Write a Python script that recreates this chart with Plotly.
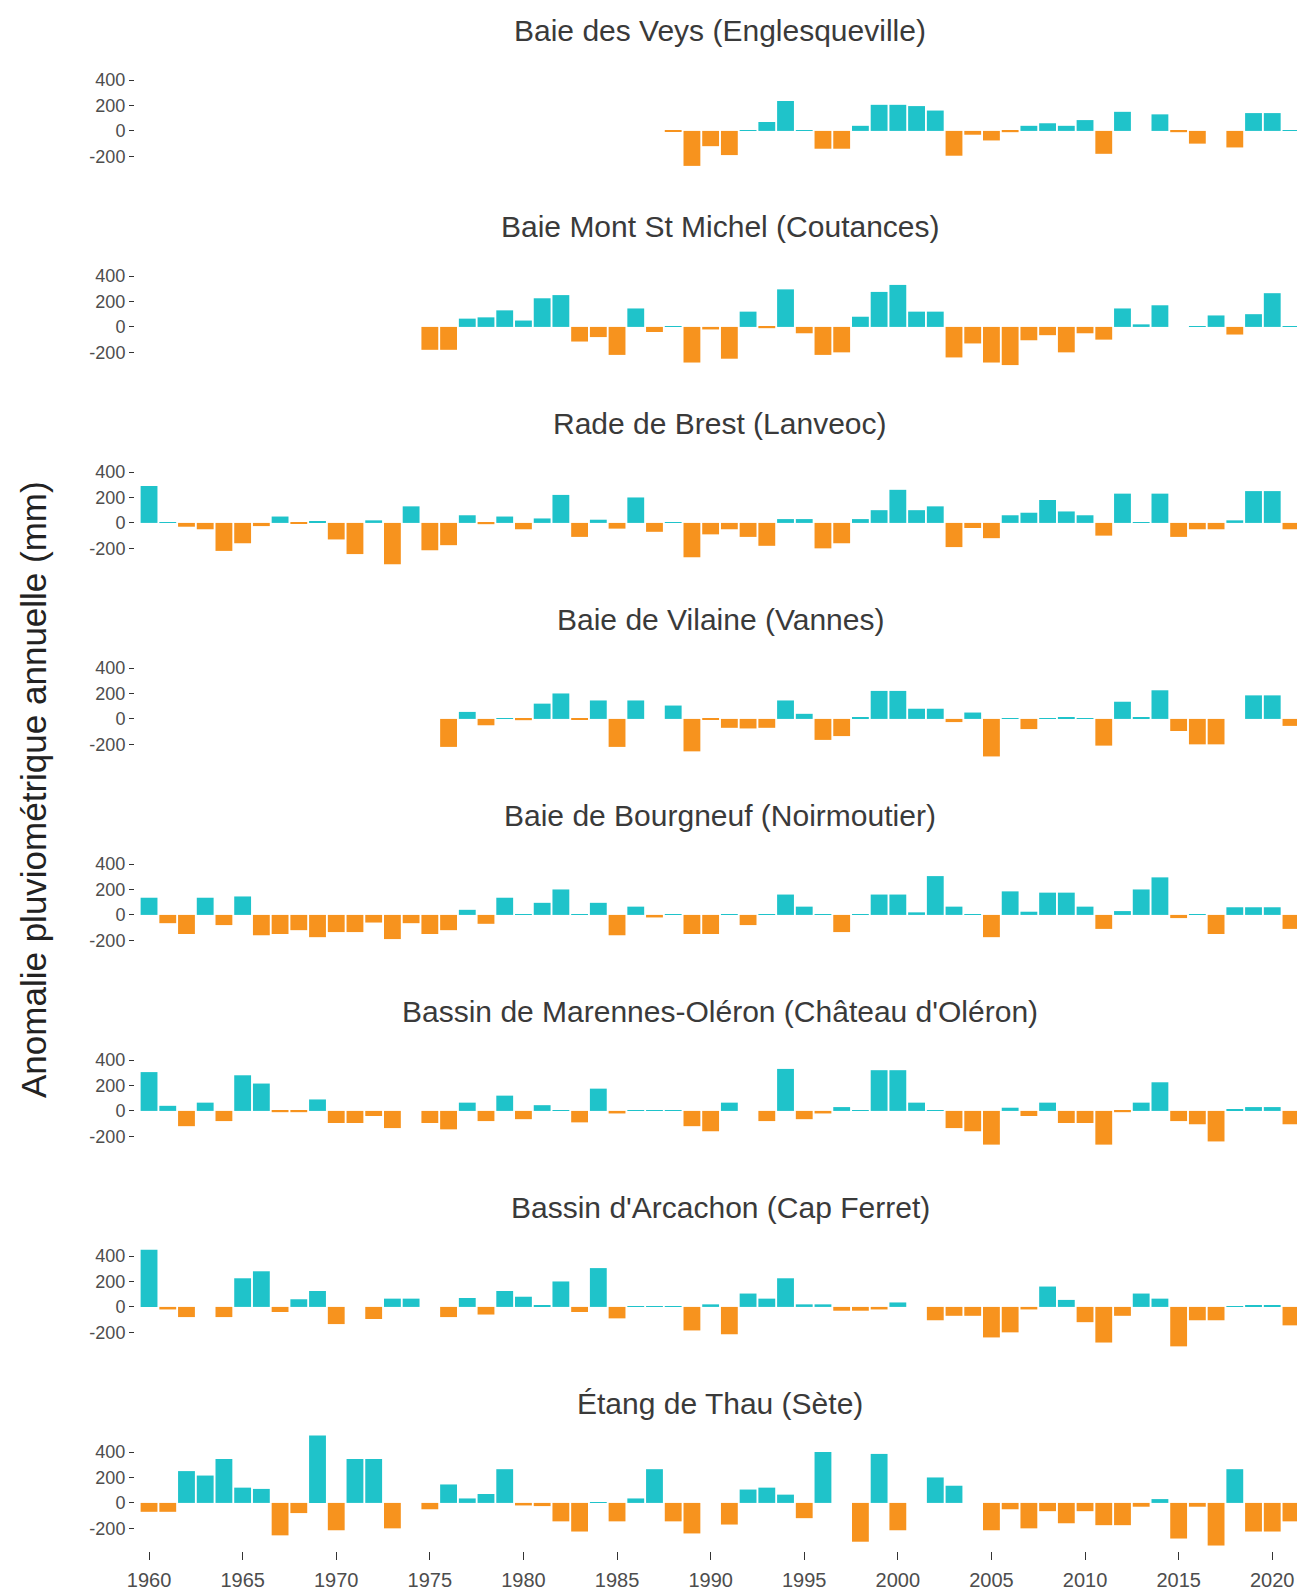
import plotly.graph_objects as go

years = list(range(1960, 2022))

titles = [
    "Baie des Veys (Englesqueville)",
    "Baie Mont St Michel (Coutances)",
    "Rade de Brest (Lanveoc)",
    "Baie de Vilaine (Vannes)",
    "Baie de Bourgneuf (Noirmoutier)",
    "Bassin de Marennes-Oléron (Château d'Oléron)",
    "Bassin d'Arcachon (Cap Ferret)",
    "Étang de Thau (Sète)",
]

# Baie des Veys: 1988-2021
veys_start = 1988
veys = [-8, -275, -120, -190, 5, 70, 235, 5, -140, -140,
        40, 205, 205, 195, 160, -195, -30, -75, -10, 40,
        60, 40, 85, -180, 150, None, 130, -10, -100, None,
        -130, 140, 140, 5]

# Baie Mont St Michel: 1975-2021
msm_start = 1975
msm = [-180, -180, 65, 75, 130, 50, 225, 250, -115, -80,
       -220, 145, -40, 5, -280, -20, -250, 120, -10, 295,
       -50, -220, -200, 80, 275, 330, 120, 120, -240, -130,
       -280, -300, -105, -65, -200, -50, -100, 145, 20, 170,
       None, 5, 90, -60, 100, 265, 5]

# Rade de Brest: 1960-2021
brest_start = 1960
brest = [290, 5, -30, -50, -220, -160, -25, 50, -5, 15,
         -130, -245, 20, -325, 130, -215, -175, 60, -10, 50,
         -50, 35, 220, -110, 25, -45, 200, -70, 5, -270,
         -90, -50, -110, -180, 30, 30, -200, -160, 30, 100,
         260, 100, 130, -190, -40, -120, 60, 80, 180, 90,
         60, -100, 230, 5, 230, -110, -50, -50, 20, 250,
         250, -50]

# Baie de Vilaine: 1976-2021
vilaine_start = 1976
vilaine = [-220, 55, -50, 5,
           -10, 120, 200, -5, 145, -220, 145, None, 105, -255,
           -5, -70, -75, -70, 145, 40, -165, -135, 10, 220,
           220, 80, 80, -25, 50, -295, 5, -80, 5, 15,
           5, -210, 135, 10, 225, -95, -200, -200, None, 185,
           185, -55]

# Baie de Bourgneuf: 1960-2021
bourgneuf_start = 1960
bourgneuf = [135, -65, -150, 135, -80, 145, -160, -150, -120, -175,
             -135, -135, -60, -190, -65, -150, -120, 40, -70, 135,
             5, 95, 200, 5, 95, -160, 65, -20, 5, -150,
             -150, 5, -80, 5, 160, 65, 5, -135, 5, 160,
             160, 20, 305, 65, 5, -175, 185, 25, 175, 175,
             65, -110, 30, 200, 295, -25, 5, -150, 60, 60,
             60, -110]

# Marennes-Oléron: 1960-2021
oleron_start = 1960
oleron = [305, 40, -120, 65, -80, 280, 215, -10, -10, 90,
          -95, -95, -40, -135, None, -95, -145, 65, -80, 120,
          -65, 45, 5, -90, 175, -20, 5, 5, 5, -120,
          -160, 65, None, -80, 330, -65, -20, 30, 5, 320,
          320, 65, 5, -135, -160, -265, 25, -40, 65, -95,
          -95, -265, -10, 65, 225, -80, -105, -240, 10, 30,
          30, -105]

# Arcachon: 1960-2021
arcachon_start = 1960
arcachon = [450, -20, -80, None, -80, 225, 280, -40, 60, 125,
            -135, None, -95, 65, 65, None, -80, 70, -60, 125,
            80, 15, 200, -40, 305, -90, 5, 5, 5, -185,
            20, -215, 105, 65, 225, 20, 20, -30, -30, -20,
            35, None, -105, -70, -70, -240, -200, -20, 160, 55,
            -120, -280, -70, 105, 65, -310, -105, -105, 5, 10,
            10, -145]

# Étang de Thau: 1960-2021
thau_start = 1960
thau = [-70, -70, 250, 215, 345, 120, 110, -255, -80, 530,
        -215, 345, 345, -200, None, -50, 145, 35, 70, 265,
        -20, -25, -145, -225, 5, -145, 35, 265, -145, -240,
        None, -170, 105, 120, 65, -120, 400, None, -305, 385,
        -215, None, 200, 135, None, -215, -50, -200, -65, -160,
        -65, -175, -175, -30, 30, -280, -30, -335, 265, -225,
        -225, -145]

series = [(veys_start, veys), (msm_start, msm), (brest_start, brest),
          (vilaine_start, vilaine), (bourgneuf_start, bourgneuf),
          (oleron_start, oleron), (arcachon_start, arcachon), (thau_start, thau)]

y_tickvals = [-200, 0, 200, 400]
y_ticktext = ["-200", "0", "200", "400"]
x_tickvals = list(range(1960, 2021, 5))

CYAN = "#1FC3CA"
ORANGE = "#F7931E"
FONT = "Liberation Sans, Arial, sans-serif"

# page body has an 8px margin; figure sized to fill the rest of the window
W, H = 1297, 1584
TOP0, STEP, PH = 50, 196, 121
XR = [1959.25, 2021.75]
YR = [-378, 573]

fig = go.Figure()
layout = dict(
    width=W, height=H,
    margin=dict(l=127, r=0, t=0, b=0, autoexpand=False),
    paper_bgcolor="white", plot_bgcolor="white",
    showlegend=False,
    font=dict(family=FONT),
    annotations=[],
)

for i, (title, (start, vals)) in enumerate(zip(titles, series)):
    n = i + 1
    sfx = "" if n == 1 else str(n)
    xs = list(range(start, start + len(vals)))
    colors = [CYAN if (v is not None and v >= 0) else ORANGE for v in vals]
    fig.add_trace(go.Bar(
        x=xs, y=vals, width=0.9,
        marker=dict(color=colors, line=dict(width=0)),
        xaxis="x" + sfx, yaxis="y" + sfx,
        hoverinfo="x+y",
    ))
    top = TOP0 + i * STEP
    dom = [1 - (top + PH) / H, 1 - top / H]
    last = (n == len(titles))
    layout["xaxis" + sfx] = dict(
        domain=[0, 1], anchor="y" + sfx, range=XR,
        showgrid=False, zeroline=False, showline=False,
        showticklabels=last,
        ticks="outside" if last else "",
        ticklen=8, tickwidth=1, tickcolor="#333333",
        ticklabelstandoff=3,
        tickvals=x_tickvals,
        tickfont=dict(family=FONT, size=20, color="#4D4D4D"),
        fixedrange=True,
    )
    layout["yaxis" + sfx] = dict(
        domain=dom, anchor="x" + sfx, range=YR,
        showgrid=False, zeroline=False, showline=False,
        tickvals=y_tickvals, ticktext=y_ticktext,
        ticks="outside", ticklen=5, tickwidth=1, tickcolor="#333333",
        tickfont=dict(family=FONT, size=18, color="#4D4D4D"),
        fixedrange=True,
    )
    layout["annotations"].append(dict(
        text=title, xref="paper", yref="paper",
        x=0.5, y=1 - (top - 27) / H, xanchor="center", yanchor="middle",
        showarrow=False, font=dict(family=FONT, size=30, color="#3A3A3A"),
    ))

layout["annotations"].append(dict(
    text="Anomalie pluviométrique annuelle (mm)",
    xref="paper", yref="paper",
    x=(25 - 127) / (W - 127), y=1 - 782 / H,
    xanchor="center", yanchor="middle", textangle=-90,
    showarrow=False, font=dict(family=FONT, size=35, color="#222222"),
))

fig.update_layout(**layout)
fig.write_html("out.html")
